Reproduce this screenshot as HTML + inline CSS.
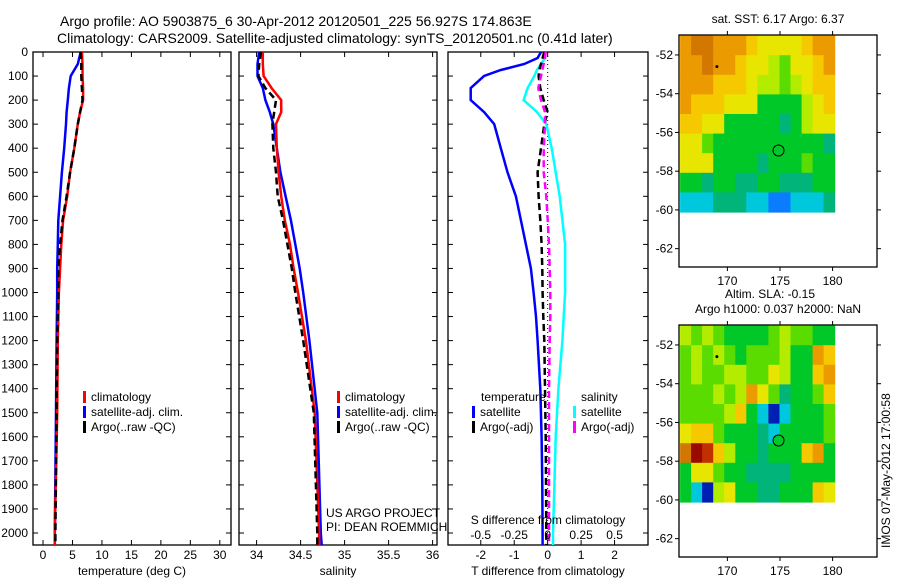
<!DOCTYPE html>
<html><head><meta charset="utf-8">
<style>
html,body{margin:0;padding:0;background:#fff;}
svg{display:block;font-family:"Liberation Sans",sans-serif;}
text{fill:#000;}
</style></head>
<body>
<svg id="chart" width="900" height="580" viewBox="0 0 900 580">
<rect width="900" height="580" fill="#fff"/>
<text x="60" y="26" font-size="14">Argo profile: AO 5903875_6 30-Apr-2012 20120501_225 56.927S 174.863E</text>
<text x="57" y="43" font-size="14">Climatology: CARS2009. Satellite-adjusted climatology: synTS_20120501.nc (0.41d later)</text>
<g id="layer"></g>
</svg>
<script>
// ---- data ----
const depthsP = [0,50,100,150,200,250,300,400,500,600,700,800,900,1000,1200,1500,2000,2050];
const tempClim = [6.6,6.7,6.7,6.8,6.8,6.3,5.9,5.3,4.6,4.1,3.4,3.1,2.9,2.7,2.5,2.4,2.0,2.0];
const tempSat  = [6.4,5.9,4.7,4.4,4.2,4.0,3.9,3.6,3.2,2.9,2.6,2.5,2.4,2.4,2.3,2.2,2.0,2.0];
const tempArgo = [6.4,6.5,6.5,6.6,6.7,6.3,5.9,5.3,4.6,4.0,3.3,2.9,2.6,2.6,2.4,2.3,2.1,2.1];
const salClim  = [34.07,34.07,34.08,34.17,34.28,34.28,34.22,34.23,34.25,34.28,34.32,34.38,34.42,34.47,34.56,34.66,34.71,34.71];
const salSat   = [34.03,34.01,34.01,34.07,34.10,34.15,34.19,34.23,34.27,34.33,34.39,34.44,34.49,34.53,34.60,34.69,34.73,34.74];
const salArgo  = [34.05,34.03,34.02,34.10,34.22,34.20,34.18,34.19,34.22,34.24,34.30,34.35,34.40,34.44,34.53,34.65,34.69,34.69];

const depthsD = [0,25,50,75,100,150,200,250,300,400,500,600,700,800,900,1000,1100,1200,1400,1600,1800,2000,2050];
const tDiffSat  = [-0.2,-0.3,-0.7,-1.4,-1.9,-2.3,-2.3,-1.9,-1.6,-1.4,-1.2,-0.95,-0.8,-0.65,-0.5,-0.42,-0.35,-0.3,-0.22,-0.18,-0.16,-0.15,-0.15];
const tDiffArgo = [-0.1,-0.15,-0.2,-0.25,-0.27,-0.22,-0.12,0,-0.1,-0.2,-0.3,-0.27,-0.22,-0.18,-0.16,-0.15,-0.13,-0.1,-0.08,-0.06,-0.05,-0.04,-0.04];
const sDiffSat  = [-0.02,-0.02,-0.05,-0.08,-0.1,-0.15,-0.18,-0.08,-0.01,0.03,0.06,0.09,0.11,0.13,0.13,0.13,0.12,0.11,0.08,0.06,0.05,0.04,0.04];
const sDiffArgo = [-0.015,-0.02,-0.03,-0.04,-0.05,-0.07,-0.05,-0.02,-0.02,-0.03,-0.03,-0.01,0.0,0.01,0.015,0.02,0.02,0.015,0.01,0.01,0.01,0.01,0.01];

const depthTicks = [0,100,200,300,400,500,600,700,800,900,1000,1100,1200,1300,1400,1500,1600,1700,1800,1900,2000];
const tempTicks = [0,5,10,15,20,25,30];
const salTicks = [34,34.5,35,35.5,36];
const tDiffTicks = [-2,-1,0,1,2];
const sDiffTicks = [-0.5,-0.25,0,0.25,0.5];
const sDiffTickLabels = ["-0.5","-0.25","0","0.25","0.5"];
const lonTicks = [170,175,180];
const latTicks = [-52,-54,-56,-58,-60,-62];

// map grids: rows lat -51..-60 (1 deg), cols lon 165.5..180 (14 cols)
const sstGrid = ["89988876666788","88988766546678","88877765545677","87776663333567","77663333323566","66433333333332","66633332333433","33233223322233","11122211001112"];
const slaGrid = ["54543333454433","45454344453387","45445544653378","44454586423347","44445731C13334","67743332133334","9BA75332333783","36643322223333","31C56332233376"];
const palette = {"0":"#0a7cff","1":"#00c8dc","2":"#00b47a","3":"#00c828","4":"#5adc00","5":"#b4ec00","6":"#e8e600","7":"#f5c800","8":"#eb9b00","9":"#d27800","A":"#c03000","B":"#9a0a00","C":"#0020b4"};

// ---- helpers ----
const NS="http://www.w3.org/2000/svg";
const layer=document.getElementById('layer');
function mk(tag,attrs,parent){const e=document.createElementNS(NS,tag);for(const k in attrs)e.setAttribute(k,attrs[k]);(parent||layer).appendChild(e);return e;}
function txt(x,y,s,size,anchor,parent){const t=mk('text',{x:x,y:y,'font-size':size||12,'text-anchor':anchor||'start'},parent);t.textContent=s;return t;}

const Y0=52, Y1=545;
function yD(d){return Y0 + d*0.2405;}

function panel(name,x0,x1,vmin,vmax){
  const g=mk('g',{});
  
  
  const f=v=>x0+(v-vmin)/(vmax-vmin)*(x1-x0);
  const r=mk('rect',{x:x0,y:Y0,width:x1-x0,height:Y1-Y0,fill:'none',stroke:'#000','stroke-width':1.3},g);
  
  
  depthTicks.forEach(d=>{mk('line',{x1:x0,x2:x0+5,y1:yD(d),y2:yD(d),stroke:'#000'},g);mk('line',{x1:x1,x2:x1-5,y1:yD(d),y2:yD(d),stroke:'#000'},g);});
  return {g,f};
}
function line(g,name,xs,ds,f,color,w,dash){
  let d='';xs.forEach((v,i)=>{d+=(i?'L':'M')+f(v).toFixed(1)+' '+yD(ds[i]).toFixed(1);});
  const p=mk('path',{d:d,fill:'none',stroke:color,'stroke-width':w,'stroke-dasharray':dash||'none'},g);
  
  
}
function xTicks(g,f,ticks,labels,ylab){
  ticks.forEach((t,i)=>{const x=f(t);mk('line',{x1:x,x2:x,y1:Y0,y2:Y0+5,stroke:'#000'},g);mk('line',{x1:x,x2:x,y1:Y1,y2:Y1-5,stroke:'#000'},g);
    const l=txt(x,ylab,labels[i],12,'middle',g);});
}
function legend(g,x,y,items){
  items.forEach((it,i)=>{const yy=y+i*15;
    const b=mk('rect',{x:x,y:yy-10,width:3,height:12,fill:it[1]},g);
    
    
    const t=txt(x+8,yy,it[0],12,'start',g);
    
    });
}

// depth labels
depthTicks.forEach(d=>{const t=txt(28,yD(d)+4,String(d),12,'end');});

// panel 1 temperature
const p1=panel('temperature-panel',33,231,-1.7,31.9);
line(p1.g,'temp-satellite',tempSat,depthsP,p1.f,'#0000ff',2.5);
line(p1.g,'temp-climatology',tempClim,depthsP,p1.f,'#ff0000',2.5);
line(p1.g,'temp-argo',tempArgo,depthsP,p1.f,'#000',2.5,'7 4');
xTicks(p1.g,p1.f,tempTicks,tempTicks.map(String),559);
{const t=txt(132,575,'temperature (deg C)',12,'middle');}
legend(p1.g,83,401,[['climatology','#ff0000'],['satellite-adj. clim.','#0000ff'],['Argo(..raw -QC)','#000']]);

// panel 2 salinity
const p2=panel('salinity-panel',239,437,33.8,36.05);
line(p2.g,'sal-satellite',salSat,depthsP,p2.f,'#0000ff',2.5);
line(p2.g,'sal-climatology',salClim,depthsP,p2.f,'#ff0000',2.5);
line(p2.g,'sal-argo',salArgo,depthsP,p2.f,'#000',2.5,'7 4');
xTicks(p2.g,p2.f,salTicks,salTicks.map(String),559);
{const t=txt(338,575,'salinity',12,'middle');}
legend(p2.g,337,401,[['climatology','#ff0000'],['satellite-adj. clim.','#0000ff'],['Argo(..raw -QC)','#000']]);
{const t=txt(326,517,'US ARGO PROJECT',12);
 const u=txt(326,531,'PI: DEAN ROEMMICH',12);}

// panel 3 differences
const p3=panel('difference-panel',448,648,-2.98,3.0);
const fS=v=>p3.f(v*4);
mk('line',{x1:p3.f(0),x2:p3.f(0),y1:Y0,y2:Y1,stroke:'#000','stroke-dasharray':'1 3'},p3.g);
line(p3.g,'tdiff-satellite',tDiffSat,depthsD,p3.f,'#0000ff',2.5);
line(p3.g,'sdiff-satellite',sDiffSat,depthsD,fS,'#00ffff',2.5);
line(p3.g,'tdiff-argo',tDiffArgo,depthsD,p3.f,'#000',2.5,'7 4');
line(p3.g,'sdiff-argo',sDiffArgo,depthsD,fS,'#ff00ff',2.5,'7 4');
xTicks(p3.g,p3.f,tDiffTicks,tDiffTicks.map(String),559);
sDiffTicks.forEach((s,i)=>{const t=txt(fS(s),539,sDiffTickLabels[i],12,'middle',p3.g);});
{const t=txt(548,524,'S difference from climatology',12,'middle');
 const u=txt(548,575,'T difference from climatology',12,'middle');}
{const t=txt(481,401,'temperature',12,'start',p3.g);
 const u=txt(581,401,'salinity',12,'start',p3.g);}
legend(p3.g,472,416,[['satellite','#0000ff'],['Argo(-adj)','#000']]);
legend(p3.g,573,416,[['satellite','#00ffff'],['Argo(-adj)','#ff00ff']]);

// maps
function map(name,top,grid,title1,title2){
  const g=mk('g',{});
  
  
  const bx0=679,bx1=877,by0=top,by1=top+232;
  const fx=lon=>bx0+(lon-165.4)*10.52;
  const fy=lat=>by0+(-50.97-lat)*19.37;
  grid.forEach((row,r)=>{for(let c=0;c<row.length;c++){
    const x=fx(165.5+c*1.05),y=fy(-51-r*1.012);
    const cell=mk('rect',{x:x.toFixed(1),y:y.toFixed(1),width:11.6,height:20.2,fill:palette[row[c]]},g);
    
    
  }});
  mk('rect',{x:bx0,y:by0,width:bx1-bx0,height:by1-by0,fill:'none',stroke:'#000','stroke-width':1.3},g);
  lonTicks.forEach(l=>{const x=fx(l);mk('line',{x1:x,x2:x,y1:by0,y2:by0-4,stroke:'#000'},g);mk('line',{x1:x,x2:x,y1:by1,y2:by1+4,stroke:'#000'},g);
    const t=txt(x,by1+18,String(l),12,'middle',g);});
  latTicks.forEach(l=>{const y=fy(l);mk('line',{x1:bx0,x2:bx0-4,y1:y,y2:y,stroke:'#000'},g);mk('line',{x1:bx1,x2:bx1+4,y1:y,y2:y,stroke:'#000'},g);
    const t=txt(673,y+4,String(l),12,'end',g);});
  mk('circle',{cx:fx(169),cy:fy(-52.6),r:1.5,fill:'#000'},g);
  const c=mk('circle',{cx:fx(174.86),cy:fy(-56.93),r:5.5,fill:'#00c828',stroke:'#000','stroke-width':1},g);
  
  
  if(title2){const a=txt(770,top-27,title1,12,'middle',g);
    const b=txt(778,top-12,title2,12,'middle',g);}
  else{const a=txt(778,top-12,title1,12,'middle',g);}
}
map('sst-map',35,sstGrid,'sat. SST: 6.17 Argo: 6.37');
map('sla-map',325,slaGrid,'Altim. SLA: -0.15','Argo h1000: 0.037 h2000: NaN');

{const t=txt(0,0,'IMOS 07-May-2012 17:00:58',12,'start');t.setAttribute('transform','translate(890,548) rotate(-90)');
 }
</script>
</body></html>
